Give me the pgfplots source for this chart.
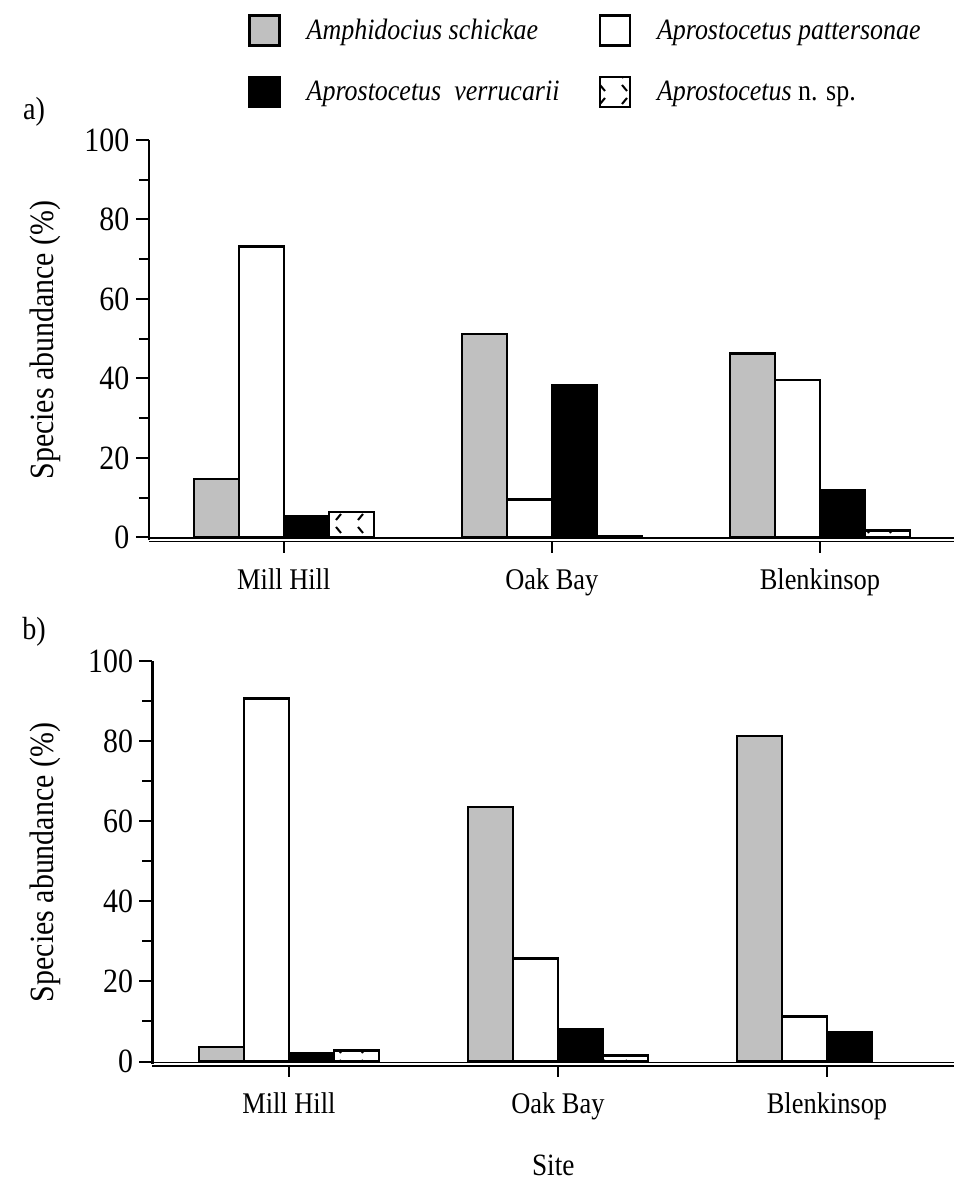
\documentclass[border=0pt]{standalone}
\usepackage{fontspec}
\setmainfont{Liberation Serif}[FakeStretch=0.88]
\usepackage{pgfplots}
\pgfplotsset{compat=1.18}
\usetikzlibrary{patterns}

% sparse dashed fill used for Aprostocetus n. sp.
\pgfdeclarepatternformonly{nsp}{\pgfqpoint{-1pt}{-1pt}}{\pgfqpoint{23pt}{27pt}}{\pgfqpoint{22pt}{26pt}}{%
  \pgfsetlinewidth{2pt}%
  \pgfpathmoveto{\pgfqpoint{6pt}{16pt}}\pgfpathlineto{\pgfqpoint{11pt}{22pt}}%
  \pgfpathmoveto{\pgfqpoint{6pt}{9pt}}\pgfpathlineto{\pgfqpoint{11pt}{3pt}}%
  \pgfusepath{stroke}}

\definecolor{barg}{RGB}{192,192,192}

% site order: Mill Hill, Oak Bay, Blenkinsop
\pgfplotstableread{
x  amph  patt  verr  nsp
0  14.7  73.2  5.2   6.4
1  51.2  9.6   38.3  0.4
2  46.3  39.6  11.9  1.8
}\dataA
\pgfplotstableread{
x  amph  patt  verr  nsp
0  3.6   90.6  2.1   2.75
1  63.6  25.7  8.0   1.5
2  81.3  11.3  7.2   nan
}\dataB

\pgfplotsset{
  legbox/.style={legend image code/.code={\draw[##1,line width=2.5pt] (0pt,-15pt) rectangle (30pt,15pt);}},
  sAmph/.style={fill=barg, draw=black, line width=2.5pt, bar shift=-67.5pt, legbox},
  sPatt/.style={fill=white, draw=black, line width=2.5pt, bar shift=-22.5pt, legbox},
  sVerr/.style={fill=black, draw=black, line width=2.5pt, bar shift=22.5pt, legbox},
  sNsp/.style={fill=white, postaction={pattern=nsp}, draw=black, line width=2.5pt, bar shift=67.5pt, legbox},
  sitebars/.style={
    ybar, bar width=45pt, scale only axis, anchor=south west,
    ymax=100, ytick={0,20,...,100}, minor ytick={10,30,...,90},
    xtick={0,1,2}, xticklabels={Mill Hill, Oak Bay, Blenkinsop},
    axis x line*=bottom, axis y line*=left,
    tick align=outside, major tick length=13pt, minor tick length=10pt,
    every tick/.style={black, line width=2pt},
    y axis line style={line width=2.5pt},
    x axis line style={line width=1.5pt, double=white, double distance=2pt},
    /pgf/number format/assume math mode=true,
    yticklabel style={font=\fontsize{34}{36}\selectfont, xshift=-3pt},
    xticklabel style={font=\fontsize{30}{32}\selectfont, yshift=-12pt},
    ylabel={Species abundance (\%)},
    ylabel style={font=\fontsize{34}{36}\selectfont, anchor=center},
    clip=false,
  }
}

\begin{document}
\begin{tikzpicture}
\useasboundingbox (0,0) rectangle (954pt,1186pt);

% panel a
\begin{axis}[sitebars, at={(148.8pt,646pt)}, width=805.2pt, height=400pt,
  xmin=-0.5035, xmax=2.5, ymin=-0.65,
  ylabel style={at={(axis description cs:-0.1289,0.5)}},
  legend columns=2,
  legend cell align=left,
  legend style={at={(axis description cs:0.1232,1.315)}, anchor=north west,
    draw=none, fill=none, inner sep=0pt,
    font=\fontsize{29.5}{32}\selectfont,
    row sep=29pt,
    /tikz/every odd column/.append style={column sep=24pt},
    /tikz/every even column/.append style={column sep=37pt}},
]
\addplot[sAmph] table[x=x, y=amph] {\dataA};
\addplot[sPatt] table[x=x, y=patt] {\dataA};
\addplot[sVerr] table[x=x, y=verr] {\dataA};
\addplot[sNsp]  table[x=x, y=nsp]  {\dataA};
\legend{\textit{Amphidocius schickae}, \textit{Aprostocetus pattersonae},
        \textit{Aprostocetus\ \ verrucarii}, \textit{Aprostocetus} n. sp.}
\node[font=\fontsize{32}{34}\selectfont] at (axis description cs:-0.1426,1.07) {a)};
\end{axis}

% panel b
\begin{axis}[sitebars, at={(152.5pt,122pt)}, width=801.5pt, height=403pt,
  xmin=-0.507, xmax=2.472, ymin=-0.62,
  ylabel style={at={(axis description cs:-0.134,0.5)}},
  xlabel={Site},
  xlabel style={font=\fontsize{31}{33}\selectfont, at={(axis description cs:0.5,-0.251)}, anchor=center},
]
\addplot[sAmph] table[x=x, y=amph] {\dataB};
\addplot[sPatt] table[x=x, y=patt] {\dataB};
\addplot[sVerr] table[x=x, y=verr] {\dataB};
\addplot[sNsp]  table[x=x, y=nsp]  {\dataB};
\node[font=\fontsize{32}{34}\selectfont] at (axis description cs:-0.1478,1.072) {b)};
\end{axis}
\end{tikzpicture}
\end{document}
